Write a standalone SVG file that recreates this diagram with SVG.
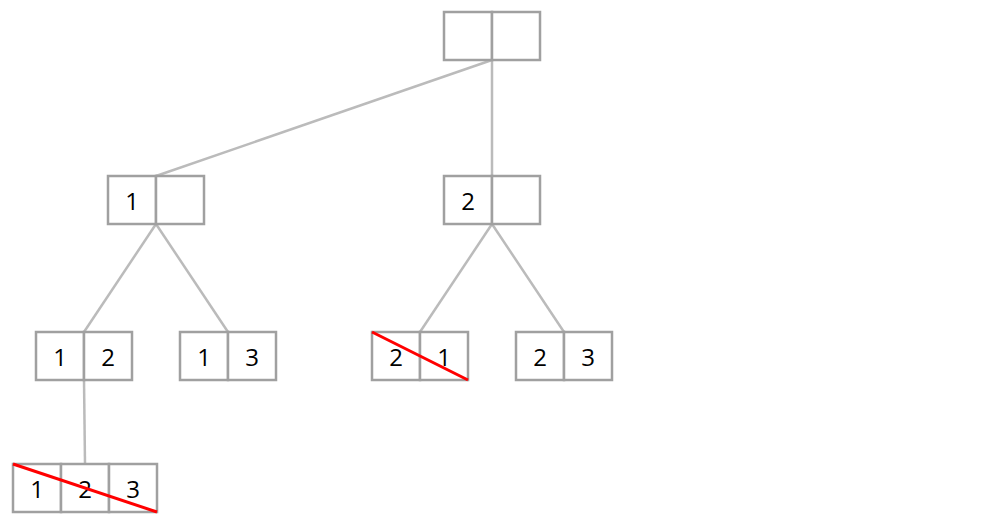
<svg xmlns="http://www.w3.org/2000/svg" width="1000" height="529" viewBox="0 0 1000 529">
<style>
.c{fill:#fff;stroke:#a0a0a0;stroke-width:2.5}
.e{stroke:#bbbbbb;stroke-width:2.5;fill:none}
.x{stroke:#ff0000;stroke-width:3}
text{font-family:"Open Sans","Noto Sans",sans-serif;font-size:24px;fill:#000;text-anchor:middle;dominant-baseline:central}
</style>
<rect width="1000" height="529" fill="#fff"/>
<g id="connectors">
<line class="e" x1="492" y1="60" x2="156" y2="176"/>
<line class="e" x1="492" y1="60" x2="492" y2="176"/>
<line class="e" x1="156" y1="224" x2="84" y2="332"/>
<line class="e" x1="156" y1="224" x2="228" y2="332"/>
<line class="e" x1="492" y1="224" x2="420" y2="332"/>
<line class="e" x1="492" y1="224" x2="564" y2="332"/>
<line class="e" x1="84" y1="380" x2="85" y2="464"/>
</g>
<g id="root">
<rect class="c" x="444" y="12" width="48" height="48"/>
<rect class="c" x="492" y="12" width="48" height="48"/>
</g>
<g id="n1">
<rect class="c" x="108" y="176" width="48" height="48"/>
<rect class="c" x="156" y="176" width="48" height="48"/>
<text x="132" y="200">1</text>
</g>
<g id="n2">
<rect class="c" x="444" y="176" width="48" height="48"/>
<rect class="c" x="492" y="176" width="48" height="48"/>
<text x="468" y="200">2</text>
</g>
<g id="n12">
<rect class="c" x="36" y="332" width="48" height="48"/>
<rect class="c" x="84" y="332" width="48" height="48"/>
<text x="60" y="356">1</text>
<text x="108" y="356">2</text>
</g>
<g id="n13">
<rect class="c" x="180" y="332" width="48" height="48"/>
<rect class="c" x="228" y="332" width="48" height="48"/>
<text x="204" y="356">1</text>
<text x="252" y="356">3</text>
</g>
<g id="n21">
<rect class="c" x="372" y="332" width="48" height="48"/>
<rect class="c" x="420" y="332" width="48" height="48"/>
<text x="396" y="356">2</text>
<text x="444" y="356">1</text>
<line class="x" x1="372" y1="332" x2="468" y2="380"/>
</g>
<g id="n23">
<rect class="c" x="516" y="332" width="48" height="48"/>
<rect class="c" x="564" y="332" width="48" height="48"/>
<text x="540" y="356">2</text>
<text x="588" y="356">3</text>
</g>
<g id="n123">
<rect class="c" x="13" y="464" width="48" height="48"/>
<rect class="c" x="61" y="464" width="48" height="48"/>
<rect class="c" x="109" y="464" width="48" height="48"/>
<text x="37" y="488">1</text>
<text x="85" y="488">2</text>
<text x="133" y="488">3</text>
<line class="x" x1="13" y1="464" x2="157" y2="512"/>
</g>
</svg>
